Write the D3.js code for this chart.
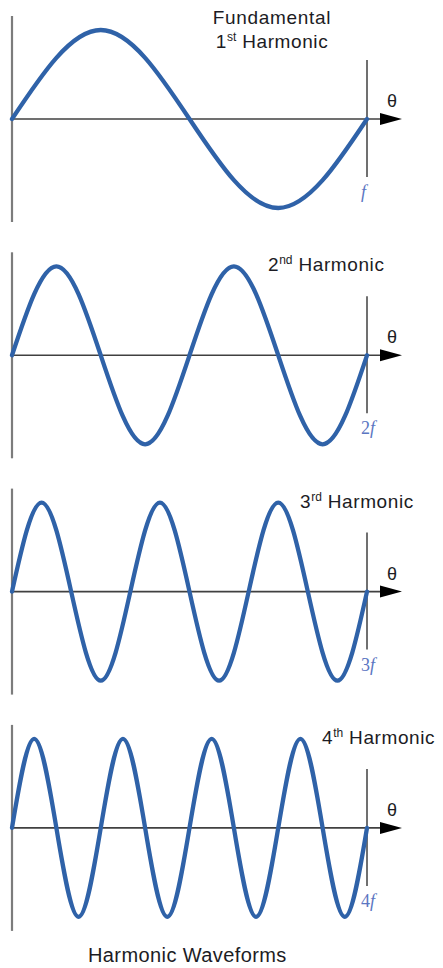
<!DOCTYPE html>
<html>
<head>
<meta charset="utf-8">
<script src="https://cdn.jsdelivr.net/npm/d3@7"></script>
<style>
  html, body { margin: 0; padding: 0; background: #fff; }
  svg { display: block; }
  text { font-family: "Liberation Sans", Arial, sans-serif; fill: #1c1c24; }
</style>
</head>
<body>
<svg id="chart" width="443" height="968"></svg>
<script>
// Harmonic order of each panel
const harmonics = [1, 2, 3, 4];
// Panel titles: ordinal number, superscript suffix, remaining words
const ordinals = ["1", "2", "3", "4"];
const suffixes = ["st", "nd", "rd", "th"];
const titleWords = ["Harmonic", "Harmonic", "Harmonic", "Harmonic"];
const fundamentalLabel = "Fundamental";
// Frequency labels at the end of each period
const freqCoeff = ["", "2", "3", "4"];
const freqSymbol = "f";
const axisLabel = "θ";
const caption = "Harmonic Waveforms";

// Normalised waveform values at quarter-period steps across one fundamental period
const wave1 = [0, 1, 0, -1, 0];
const wave2 = [0, 1, 0, -1, 0, 1, 0, -1, 0];
const wave3 = [0, 1, 0, -1, 0, 1, 0, -1, 0, 1, 0, -1, 0];
const wave4 = [0, 1, 0, -1, 0, 1, 0, -1, 0, 1, 0, -1, 0, 1, 0, -1, 0];
const waves = [wave1, wave2, wave3, wave4];

const svg = d3.select("#chart");

// Layout
const x0 = 12, x1 = 367;
const panelStep = 236.3, firstAxis = 119;
const amp = 89;
const titleX = [272, 268, 300, 322];

const x = d3.scaleLinear().domain([0, 1]).range([x0, x1]);

harmonics.forEach((h, i) => {
  const cy = firstAxis + i * panelStep;
  const y = d3.scaleLinear().domain([-1, 1]).range([cy + amp, cy - amp]);
  const g = svg.append("g");
  const vals = waves[i];
  const n = vals.length - 1;

  // left vertical axis
  g.append("line")
    .attr("x1", x0).attr("x2", x0)
    .attr("y1", cy - 103).attr("y2", cy + 103)
    .attr("stroke", "#7c7c7c").attr("stroke-width", 2.2);

  // horizontal θ axis
  g.append("line")
    .attr("x1", x0).attr("x2", 383)
    .attr("y1", cy).attr("y2", cy)
    .attr("stroke", "#404040").attr("stroke-width", 1.6);

  // arrow head
  g.append("path")
    .attr("d", `M380,${cy - 6}L402,${cy}L380,${cy + 6}Z`)
    .attr("fill", "#000");

  // end-of-period marker
  g.append("line")
    .attr("x1", x(1)).attr("x2", x(1))
    .attr("y1", cy - 59).attr("y2", cy + 58)
    .attr("stroke", "#404040").attr("stroke-width", 1.5);

  // waveform
  const line = d3.line()
    .x((d, k) => x(k / n))
    .y(d => y(d))
    .curve(d3.curveNatural);
  g.append("path")
    .datum(vals)
    .attr("d", line)
    .attr("fill", "none")
    .attr("stroke", "#2f62a8")
    .attr("stroke-width", 4.3)
    .attr("stroke-linecap", "round");

  // θ label
  g.append("text")
    .attr("x", 392).attr("y", cy - 12)
    .attr("text-anchor", "middle")
    .style("font-size", "18px")
    .text(axisLabel);

  // frequency label
  const fl = g.append("text")
    .attr("x", 361).attr("y", cy + 79)
    .style("font-family", "'Liberation Serif', 'Times New Roman', serif")
    .style("font-size", "18px")
    .style("fill", "#5b76c2");
  if (freqCoeff[i]) fl.append("tspan").text(freqCoeff[i]);
  fl.append("tspan").style("font-style", "italic").style("fill", "#5b76c2").text(freqSymbol);

  // title
  if (i === 0) {
    g.append("text")
      .attr("x", titleX[i]).attr("y", 24)
      .attr("text-anchor", "middle")
      .style("font-size", "19px").style("letter-spacing", "0.7px")
      .text(fundamentalLabel);
  }
  const t = g.append("text")
    .attr("x", titleX[i])
    .attr("y", i === 0 ? 48 : cy - 84)
    .attr("text-anchor", i === 0 ? "middle" : "start")
    .style("font-size", "19px").style("letter-spacing", "0.6px");
  t.append("tspan").text(ordinals[i]);
  t.append("tspan").attr("dy", -7).style("font-size", "12px").style("letter-spacing", "0px").text(suffixes[i]);
  t.append("tspan").attr("dy", 7).text(" " + titleWords[i]);
});

// caption
svg.append("text")
  .attr("x", 88).attr("y", 962)
  .style("font-size", "20px").style("letter-spacing", "0.4px")
  .text(caption);
</script>
</body>
</html>
